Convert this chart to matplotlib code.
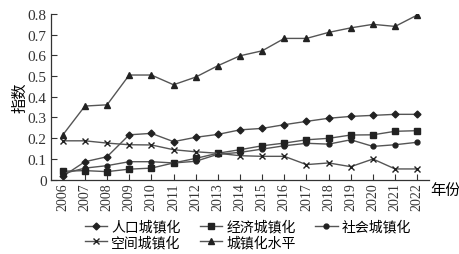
import matplotlib
matplotlib.use("Agg")
import matplotlib.pyplot as plt

years = list(range(2006, 2023))
renkou = [0.015, 0.086, 0.110, 0.216, 0.223, 0.183, 0.204, 0.218, 0.240, 0.247, 0.265, 0.281, 0.296, 0.305, 0.310, 0.315, 0.315]
jingji = [0.040, 0.043, 0.038, 0.050, 0.055, 0.080, 0.102, 0.127, 0.144, 0.163, 0.176, 0.192, 0.199, 0.215, 0.216, 0.233, 0.236]
shehui = [0.028, 0.055, 0.067, 0.086, 0.086, 0.080, 0.088, 0.122, 0.131, 0.147, 0.163, 0.175, 0.171, 0.192, 0.160, 0.168, 0.180]
kongjian = [0.187, 0.187, 0.176, 0.168, 0.167, 0.144, 0.134, 0.127, 0.115, 0.112, 0.112, 0.072, 0.080, 0.062, 0.099, 0.051, 0.051]
shuiping = [0.215, 0.355, 0.361, 0.505, 0.505, 0.458, 0.495, 0.550, 0.598, 0.622, 0.682, 0.682, 0.711, 0.733, 0.750, 0.740, 0.795]
yticks = [0, 0.1, 0.2, 0.3, 0.4, 0.5, 0.6, 0.7, 0.8]
ytick_labels = ["0", "0.1", "0.2", "0.3", "0.4", "0.5", "0.6", "0.7", "0.8"]

cjk = ["Noto Sans CJK SC", "DejaVu Sans"]
serif = ["Liberation Serif", "DejaVu Serif"]

fig = plt.figure(figsize=(4.6, 2.55), dpi=100)
ax = fig.add_axes([51/460, 1-180.5/255, (429-51)/460, (180.5-15)/255])

lc = "#555555"
mc = "#222222"
kw = dict(color=lc, lw=1.0, markerfacecolor=mc, markeredgecolor=mc)
h1, = ax.plot(years, renkou, marker="D", ms=3.5, label="人口城镇化", **kw)
h2, = ax.plot(years, jingji, marker="s", ms=5, label="经济城镇化", **kw)
h3, = ax.plot(years, shehui, marker="o", ms=3.5, label="社会城镇化", **kw)
h4, = ax.plot(years, kongjian, marker="x", ms=4, mew=1.0, label="空间城镇化", **kw)
h5, = ax.plot(years, shuiping, marker="^", ms=4, label="城镇化水平", **kw)

ax.set_xlim(2005.47, 2022.53)
ax.set_ylim(0, 0.8)
ax.set_xticks(years)
ax.set_xticklabels([str(y) for y in years], rotation=90, family=serif, fontsize=10)
ax.set_yticks(yticks)
ax.set_yticklabels(ytick_labels, family=serif, fontsize=11)
ax.tick_params(direction="in", length=4, width=0.8, colors="#333333", pad=3)
ax.tick_params(axis="x", pad=2)
for s in ["top", "right"]:
    ax.spines[s].set_visible(False)
for s in ["left", "bottom"]:
    ax.spines[s].set_color("#333333")
    ax.spines[s].set_linewidth(0.9)

ax.set_ylabel("指数", family=cjk, fontsize=11, labelpad=0)
fig.text(430/460, 1-190/255, "年份", family=cjk, fontsize=11, va="center", ha="left")

handles = [h1, h4, h2, h5, h3]
labels = [h.get_label() for h in handles]
leg = fig.legend(handles, labels, loc="center", bbox_to_anchor=(248/460, 1-235.5/255), ncol=3, frameon=False,
                 prop={"family": cjk, "size": 10}, handlelength=1.6, handletextpad=0.3,
                 columnspacing=1.4, labelspacing=0.1, borderpad=0)

fig.savefig("out.png", dpi=100)
